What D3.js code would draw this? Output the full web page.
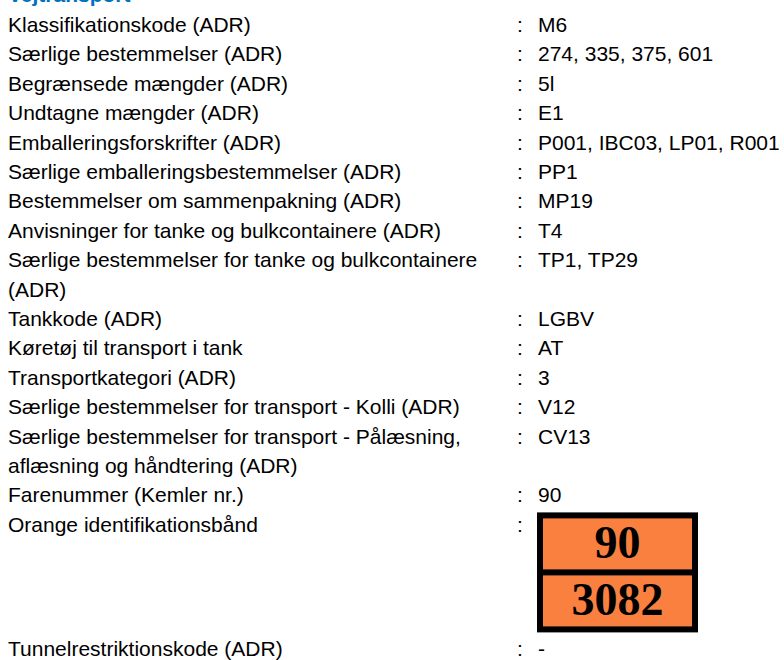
<!DOCTYPE html>
<html>
<head>
<meta charset="utf-8">
<script src="https://cdn.jsdelivr.net/npm/d3@7"></script>
<style>
  body { margin: 0; background: #fff; }
  svg text { font-family: "Liberation Sans", Arial, sans-serif; }
</style>
</head>
<body>
<div id="sheet"></div>
<script>
// section title, rows (label lines + value) and the orange plate codes
let title = "Vejtransport";

let labels = [
  ["Klassifikationskode (ADR)"],
  ["Særlige bestemmelser (ADR)"],
  ["Begrænsede mængder (ADR)"],
  ["Undtagne mængder (ADR)"],
  ["Emballeringsforskrifter (ADR)"],
  ["Særlige emballeringsbestemmelser (ADR)"],
  ["Bestemmelser om sammenpakning (ADR)"],
  ["Anvisninger for tanke og bulkcontainere (ADR)"],
  ["Særlige bestemmelser for tanke og bulkcontainere", "(ADR)"],
  ["Tankkode (ADR)"],
  ["Køretøj til transport i tank"],
  ["Transportkategori (ADR)"],
  ["Særlige bestemmelser for transport - Kolli (ADR)"],
  ["Særlige bestemmelser for transport - Pålæsning,", "aflæsning og håndtering (ADR)"],
  ["Farenummer (Kemler nr.)"]
];

let values = [
  "M6", "274, 335, 375, 601", "5l", "E1", "P001, IBC03, LP01, R001",
  "PP1", "MP19", "T4", "TP1, TP29", "LGBV", "AT", "3", "V12", "CV13", "90"
];

let plateLabel = "Orange identifikationsbånd";
let plateCodes = ["90", "3082"];

let lastLabel = "Tunnelrestriktionskode (ADR)";
let lastValue = "-";

let width = 784;
let height = 660;

let svg = d3.select("#sheet")
  .append("svg")
  .attr("width", width)
  .attr("height", height);

// line index -> baseline
let lineY = d3.scaleLinear().domain([0, 1]).range([32, 61.4]);

let leftX = 8;
let colonX = 517;
let valueX = 538;
let fontSize = 21;

svg.append("text")
  .attr("x", leftX)
  .attr("y", 2)
  .attr("font-size", fontSize)
  .attr("font-weight", "bold")
  .attr("fill", "#0070c0")
  .text(title);

// give each row its starting line
let line = 0;
let rows = labels.map(function(lbl, i) {
  let r = { lines: lbl, value: values[i], start: line };
  line += lbl.length;
  return r;
});

let rowG = svg.selectAll("g.row")
  .data(rows)
  .enter()
  .append("g")
  .attr("class", "row");

rowG.each(function(d) {
  let g = d3.select(this);
  d.lines.forEach(function(t, k) {
    g.append("text")
      .attr("x", leftX)
      .attr("y", lineY(d.start + k))
      .attr("font-size", fontSize)
      .attr("fill", "#000")
      .text(t);
  });
  g.append("text")
    .attr("x", colonX)
    .attr("y", lineY(d.start))
    .attr("font-size", fontSize)
    .attr("fill", "#000")
    .text(":");
  g.append("text")
    .attr("x", valueX)
    .attr("y", lineY(d.start))
    .attr("font-size", fontSize)
    .attr("fill", "#000")
    .text(d.value);
});

// orange plate row
let plateY = lineY(line);
svg.append("text")
  .attr("x", leftX).attr("y", plateY)
  .attr("font-size", fontSize).text(plateLabel);
svg.append("text")
  .attr("x", colonX).attr("y", plateY)
  .attr("font-size", fontSize).text(":");

let plateX0 = 537;
let plateX1 = 698;
let plateTop = plateY - 19.4;
let border = 6;
let cellH = 51;

let plateBottom = plateTop + border * 3 + cellH * plateCodes.length;

let cellY = d3.scaleLinear()
  .domain([0, 1])
  .range([plateTop + border, plateTop + border + cellH + border]);

svg.append("rect")
  .attr("x", plateX0)
  .attr("y", plateTop)
  .attr("width", plateX1 - plateX0)
  .attr("height", plateBottom - plateTop)
  .attr("fill", "#000");

svg.selectAll("rect.cell")
  .data(plateCodes)
  .enter()
  .append("rect")
  .attr("class", "cell")
  .attr("x", plateX0 + border)
  .attr("y", function(d, i) { return cellY(i); })
  .attr("width", plateX1 - plateX0 - border * 2)
  .attr("height", cellH)
  .attr("fill", "#f9803f");

svg.selectAll("text.code")
  .data(plateCodes)
  .enter()
  .append("text")
  .attr("class", "code")
  .attr("x", (plateX0 + plateX1) / 2)
  .attr("y", function(d, i) { return cellY(i) + cellH - 11; })
  .attr("text-anchor", "middle")
  .attr("font-size", 46)
  .attr("font-weight", "bold")
  .style("font-family", "'Liberation Serif', 'Times New Roman', serif")
  .attr("fill", "#000")
  .text(function(d) { return d; });

// last row under the plate
let lastY = plateBottom + 24;
svg.append("text")
  .attr("x", leftX).attr("y", lastY)
  .attr("font-size", fontSize).text(lastLabel);
svg.append("text")
  .attr("x", colonX).attr("y", lastY)
  .attr("font-size", fontSize).text(":");
svg.append("text")
  .attr("x", valueX).attr("y", lastY)
  .attr("font-size", fontSize).text(lastValue);
</script>
</body>
</html>
